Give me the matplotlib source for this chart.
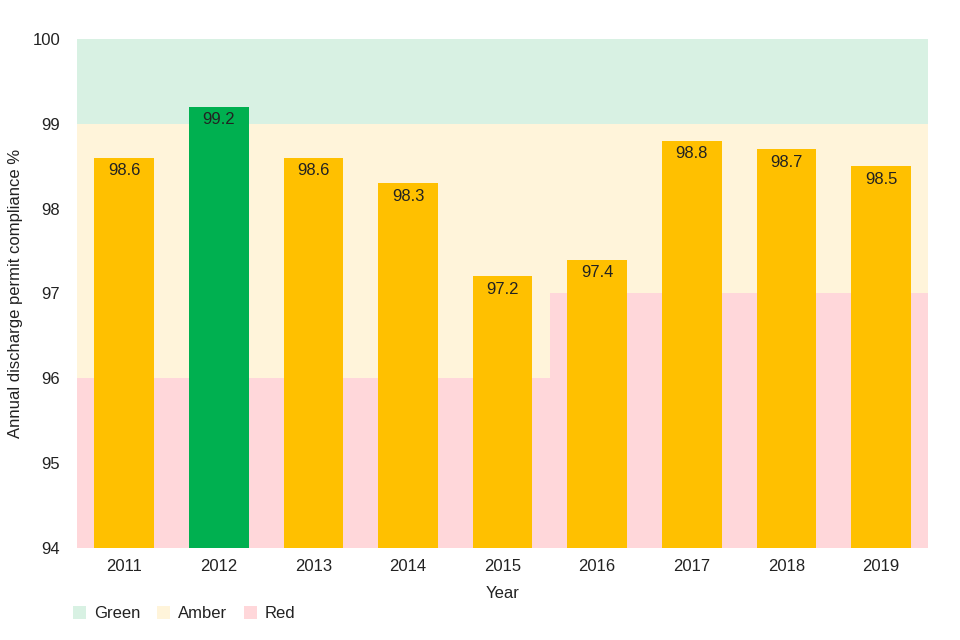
import matplotlib.pyplot as plt

plt.rcParams['font.family'] = ['Liberation Sans', 'DejaVu Sans']

# Данные
years = ['2011', '2012', '2013', '2014', '2015', '2016', '2017', '2018', '2019']
compliance = [98.6, 99.2, 98.6, 98.3, 97.2, 97.4, 98.8, 98.7, 98.5]
red_top = [96, 96, 96, 96, 96, 97, 97, 97, 97]
amber_top = [99, 99, 99, 99, 99, 99, 99, 99, 99]
green_top = [100, 100, 100, 100, 100, 100, 100, 100, 100]
Y_MIN = 94

BAR_GREEN = '#00B050'
BAR_AMBER = '#FFC000'
BG_GREEN = '#D8F1E3'
BG_AMBER = '#FFF4DA'
BG_RED = '#FFD7DA'
TXT = '#222222'
FS = 12

fig = plt.figure(figsize=(9.6, 6.4), dpi=100)
ax = fig.add_axes([0.080, 0.144, 0.887, 0.795])

x = range(len(years))

# фоновые зоны
red_h = [r - Y_MIN for r in red_top]
amber_h = [a - r for a, r in zip(amber_top, red_top)]
green_h = [g - a for g, a in zip(green_top, amber_top)]
ax.bar(x, red_h, bottom=Y_MIN, width=1.0, color=BG_RED, label='Red', zorder=1)
ax.bar(x, amber_h, bottom=red_top, width=1.0, color=BG_AMBER, label='Amber', zorder=1)
ax.bar(x, green_h, bottom=amber_top, width=1.0, color=BG_GREEN, label='Green', zorder=1)

# столбцы
colors = [BAR_GREEN if v >= a else BAR_AMBER for v, a in zip(compliance, amber_top)]
heights = [v - Y_MIN for v in compliance]
ax.bar(x, heights, bottom=Y_MIN, width=0.63, color=colors, zorder=2)

for i, v in enumerate(compliance):
    ax.annotate(f'{v:.1f}', (i, v), xytext=(0, -4), textcoords='offset points',
                ha='center', va='top', fontsize=FS, color=TXT, zorder=3)

ax.set_xlim(-0.5, len(years) - 0.5)
ax.set_ylim(Y_MIN, 100)
ax.set_xticks(list(x))
ax.set_xticklabels(years)
ax.set_yticks(range(94, 101))
ax.tick_params(length=0, labelsize=FS, colors=TXT, pad=8)
ax.tick_params(axis='y', pad=12)
for s in ax.spines.values():
    s.set_visible(False)

ax.set_xlabel('Year', fontsize=FS, color=TXT, labelpad=9)
ax.set_ylabel('Annual discharge permit compliance %', fontsize=FS, color=TXT, labelpad=7)

handles, labels = ax.get_legend_handles_labels()
order = [2, 1, 0]
ax.legend([handles[i] for i in order], [labels[i] for i in order],
          loc='upper left', bbox_to_anchor=(-0.022, -0.085), ncol=3, frameon=False,
          fontsize=FS, handlelength=0.8, handleheight=0.8, columnspacing=1.0,
          handletextpad=0.45, labelcolor=TXT)

fig.savefig('out.png', dpi=100)
